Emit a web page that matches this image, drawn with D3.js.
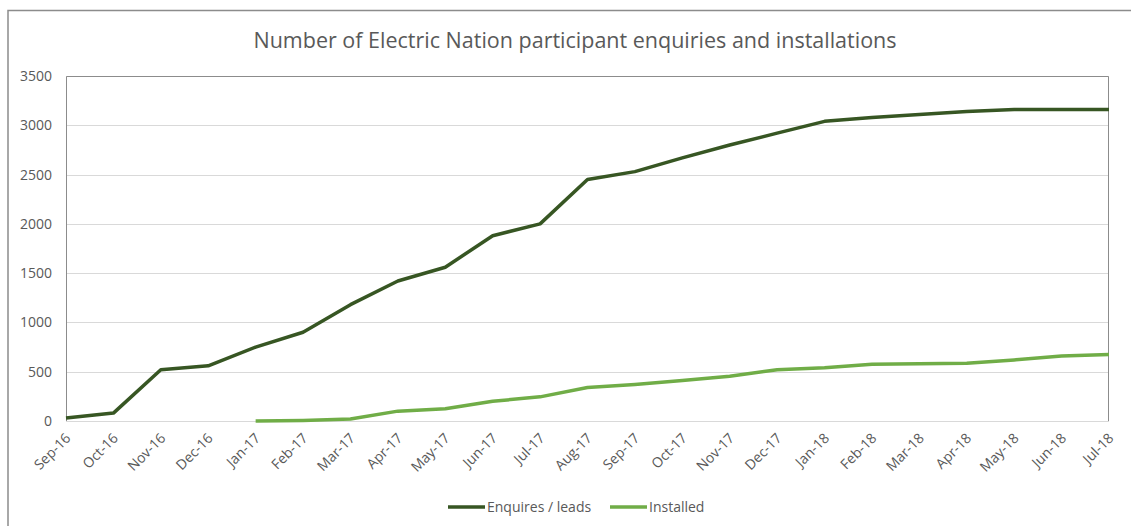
<!DOCTYPE html>
<html>
<head>
<meta charset="utf-8">
<script src="https://cdn.jsdelivr.net/npm/d3@7"></script>
<style>
  body { margin: 0; background: #fff; }
  text { font-family: "Open Sans", "Noto Sans", sans-serif; fill: #595959; }
</style>
</head>
<body>
<div id="chart"></div>
<script>
// Month labels along the x axis
const months = ["Sep-16", "Oct-16", "Nov-16", "Dec-16", "Jan-17", "Feb-17", "Mar-17", "Apr-17",
  "May-17", "Jun-17", "Jul-17", "Aug-17", "Sep-17", "Oct-17", "Nov-17", "Dec-17",
  "Jan-18", "Feb-18", "Mar-18", "Apr-18", "May-18", "Jun-18", "Jul-18"];

// Enquiries / leads (cumulative)
const enquiries = [30, 80, 520, 560, 750, 900, 1180, 1420, 1560, 1880, 2000, 2450, 2530,
  2670, 2800, 2920, 3040, 3080, 3110, 3140, 3160, 3160, 3160];

// Installed (no data before Jan-17)
const installed = [null, null, null, null, 0, 5, 20, 100, 125, 200, 245, 340, 370,
  410, 455, 520, 540, 575, 580, 585, 620, 660, 675];

const yTicks = [0, 500, 1000, 1500, 2000, 2500, 3000, 3500];

const series = [
  { name: "Enquires / leads", values: enquiries, color: "#375623" },
  { name: "Installed", values: installed, color: "#70AD47" }
];

const width = 1131;
const height = 526;
const margin = { top: 76, right: 22, bottom: 105, left: 66 };

const svg = d3.select("#chart").append("svg")
  .attr("width", width)
  .attr("height", height);

// Outer chart frame (cut off at the right and bottom in the original)
svg.append("path")
  .attr("d", `M8,${height} V10.5 H${width}`)
  .attr("fill", "none")
  .attr("stroke", "#8c8c8c")
  .attr("stroke-width", 1.5);

const x = d3.scalePoint()
  .domain(months)
  .range([margin.left, width - margin.right]);

const y = d3.scaleLinear()
  .domain([0, 3500])
  .range([height - margin.bottom, margin.top]);

// Gridlines
svg.append("g")
  .selectAll("line")
  .data(yTicks.slice(1))
  .join("line")
  .attr("x1", margin.left)
  .attr("x2", width - margin.right)
  .attr("y1", d => Math.round(y(d)) + 0.5)
  .attr("y2", d => Math.round(y(d)) + 0.5)
  .attr("stroke", "#d9d9d9")
  .attr("stroke-width", 1);

// Bottom axis line
svg.append("line")
  .attr("x1", margin.left)
  .attr("x2", width - margin.right)
  .attr("y1", Math.round(y(0)) + 0.5)
  .attr("y2", Math.round(y(0)) + 0.5)
  .attr("stroke", "#d9d9d9");

// Plot area frame: left, top and right edges
svg.append("path")
  .attr("d", `M${margin.left + 0.5},${y(0)} V${margin.top + 0.5} H${width - margin.right - 0.5} V${y(0)}`)
  .attr("fill", "none")
  .attr("stroke", "#8c8c8c")
  .attr("stroke-width", 1);

// Y axis labels
const yAxis = d3.axisLeft(y).tickValues(yTicks).tickFormat(d3.format("d")).tickSize(0).tickPadding(14);
svg.append("g")
  .attr("transform", `translate(${margin.left},0)`)
  .call(yAxis)
  .call(g => g.select(".domain").remove())
  .selectAll("text")
  .style("font-size", "14px")
  .style("fill", "#595959")
  .style("font-family", "'Open Sans', sans-serif");

// X axis labels, rotated
const xAxis = d3.axisBottom(x).tickSize(0).tickPadding(0);
svg.append("g")
  .attr("transform", `translate(0,${y(0)})`)
  .call(xAxis)
  .call(g => g.select(".domain").remove())
  .selectAll("text")
  .attr("text-anchor", "end")
  .attr("dy", "0")
  .attr("y", 0)
  .attr("transform", "translate(5,18) rotate(-45)")
  .style("font-size", "14px")
  .style("fill", "#595959")
  .style("font-family", "'Open Sans', sans-serif");

// Lines
const line = d3.line()
  .defined(d => d.v !== null)
  .x(d => x(d.m))
  .y(d => y(d.v));

series.forEach(s => {
  svg.append("path")
    .datum(months.map((m, i) => ({ m: m, v: s.values[i] })))
    .attr("fill", "none")
    .attr("stroke", s.color)
    .attr("stroke-width", 3.5)
    .attr("stroke-linejoin", "round")
    .attr("d", line);
});

// Title
svg.append("text")
  .attr("x", 575)
  .attr("y", 48)
  .attr("text-anchor", "middle")
  .style("font-size", "21.5px")
  .text("Number of Electric Nation participant enquiries and installations");

// Legend
const legendX = [448, 610];
const legend = svg.append("g");
series.forEach((s, i) => {
  legend.append("line")
    .attr("x1", legendX[i])
    .attr("x2", legendX[i] + 37)
    .attr("y1", 507)
    .attr("y2", 507)
    .attr("stroke", s.color)
    .attr("stroke-width", 3.5);
  legend.append("text")
    .attr("x", legendX[i] + 39)
    .attr("y", 512)
    .style("font-size", "14px")
    .text(s.name);
});
</script>
</body>
</html>
